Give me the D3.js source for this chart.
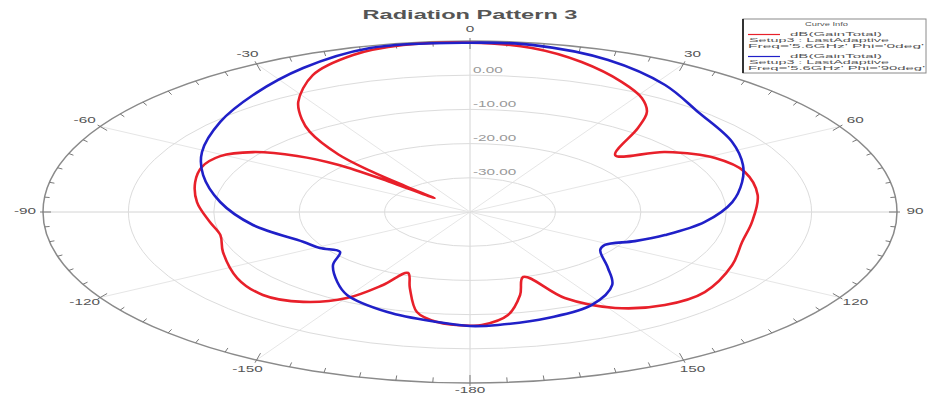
<!DOCTYPE html>
<html>
<head>
<meta charset="utf-8">
<script src="https://cdn.jsdelivr.net/npm/d3@7"></script>
<style>
  body { margin: 0; background: #fff; }
  svg { display: block; }
  text { font-family: Arial, "Liberation Sans", sans-serif; }
</style>
</head>
<body>
<svg id="chart" width="928" height="399"></svg>
<script>
// Gain pattern, Phi = 0deg (theta in degrees, gain in dB)
const redTheta = [-180, -173.2, -168, -162.4, -157.9, -154.5, -150.2, -143.4, -135, -125.3,
  -112, -103, -95.5, -84.8, -74.8, -67.3, -60.8, -55.4, -51, -48.2,
  -46.8, -45.6, -45, -44.2, -42.5, -38.7, -36, -32, -24.7, -16.6,
  -9.1, 0, 8.6, 16.6, 25.1, 31.1, 35.3, 38.7, 45.6, 52.5,
  61.2, 70, 81.6, 95, 105.4, 116.8, 130.4, 140, 148.8, 156.2,
  161.9, 166.4, 171.6, 177.6];
const redGain = [-6.75, -7.6, -10.1, -16.7, -20.75, -16.35, -11.0, -7.25, -5.7, -6.6,
  -8.8, -10.0, -9.4, -7.9, -6.65, -5.95, -6.5, -9.15, -13.95, -19.25,
  -26.95, -34.2, -29.3, -23.45, -17.2, -10.0, -6.5, -2.05, 4.05, 7.9,
  9.45, 9.5, 8.5, 5.75, 1.95, -1.05, -4.15, -8.55, -16.2, -11.2,
  -7.25, -5.75, -5.95, -6.85, -6.95, -5.6, -3.9, -4.5, -7.2, -12.5,
  -20.0, -15.05, -9.55, -6.9];

// Gain pattern, Phi = 90deg
const blueTheta = [-180, -173.2, -161.7, -149.3, -142.8, -134, -127.6, -121, -114, -98.5,
  -84.3, -71, -60.8, -48, -36.6, -24.9, -13.7, 0, 8.4, 20,
  31.6, 42.4, 56.3, 66.7, 74.6, 84.6, 96, 106.5, 113.8, 121.4,
  126, 135.4, 142, 152.3, 163.6, 174.3];
const blueGain = [-6.65, -7.6, -9.2, -11.8, -14.3, -17.7, -20.8, -19.5, -18.6, -14.3,
  -10.6, -6.95, -4.05, -0.65, 2.6, 6.4, 9.35, 9.5, 9.4, 7.3,
  3.6, -0.4, -3.1, -5.2, -6.95, -9.15, -12.35, -16.2, -18.9, -21.5,
  -21.15, -17.0, -12.95, -9.3, -7.7, -6.8];

const ringLevels = [0, -10, -20, -30];
const ringLabels = ["0.00", "-10.00", "-20.00", "-30.00"];
const angleLabels = [-180, -150, -120, -90, -60, -30, 0, 30, 60, 90, 120, 150];
const legendText = [
  ["dB(GainTotal)", "Setup3 : LastAdaptive", "Freq='5.6GHz' Phi='0deg'"],
  ["dB(GainTotal)", "Setup3 : LastAdaptive", "Freq='5.6GHz' Phi='90deg'"]
];
const seriesColors = ["#e8202a", "#2020c8"];

const svg = d3.select("#chart");
const cx = 470, cy = 212, rx = 427, ry = 171;
const stretch = 1.7;

const r = d3.scaleLinear().domain([-40, 10]).range([0, 1]);
const ang = d3.scaleLinear().domain([0, 360]).range([0, 2 * Math.PI]);

function pt(deg, frac, ax = rx, ay = ry) {
  const a = ang(deg);
  return [cx + ax * frac * Math.sin(a), cy - ay * frac * Math.cos(a)];
}

function wideText(g, x, y, str, size, color, anchor, weight) {
  return g.append("text")
    .attr("transform", `translate(${x},${y}) scale(${stretch},1)`)
    .attr("text-anchor", anchor || "middle")
    .attr("dominant-baseline", "middle")
    .attr("font-size", size)
    .attr("font-weight", weight || "normal")
    .attr("fill", color)
    .text(str);
}

const grid = svg.append("g");

// spokes
d3.range(0, 360, 30).forEach(d => {
  const [x, y] = pt(d, 1);
  grid.append("line")
    .attr("x1", cx).attr("y1", cy).attr("x2", x).attr("y2", y)
    .attr("stroke", d % 90 === 0 ? "#d4d4d4" : "#e6e6e6").attr("stroke-width", 1);
});

// dB rings
ringLevels.forEach(v => {
  grid.append("ellipse")
    .attr("cx", cx).attr("cy", cy)
    .attr("rx", rx * r(v)).attr("ry", ry * r(v))
    .attr("fill", "none").attr("stroke", "#dcdcdc").attr("stroke-width", 1);
});

// outer ring
grid.append("ellipse")
  .attr("cx", cx).attr("cy", cy).attr("rx", rx).attr("ry", ry)
  .attr("fill", "none").attr("stroke", "#8a8a8a").attr("stroke-width", 1.5);

// tick marks on outer ring
d3.range(-180, 180, 5).forEach(d => {
  const major = d % 30 === 0;
  const inL = major ? 8 : 5, outL = major ? 3 : 0;
  const [x1, y1] = pt(d, 1, rx - inL, ry - inL);
  const [x2, y2] = pt(d, 1, rx + outL, ry + outL);
  grid.append("line")
    .attr("x1", x1).attr("y1", y1).attr("x2", x2).attr("y2", y2)
    .attr("stroke", "#7a7a7a").attr("stroke-width", 1);
});

// angle labels
angleLabels.forEach(d => {
  const [x, y] = pt(d, 1, 445, 182);
  wideText(grid, x, Math.min(y, 391), String(d), 9, "#555");
});

// ring labels
ringLevels.forEach((v, i) => {
  wideText(grid, cx + 3, cy - ry * r(v) - 5, ringLabels[i], 9, "#9a9a9a", "start");
});

// pattern curves
const line = d3.line()
  .x(d => pt(d[0], r(d[1]))[0])
  .y(d => pt(d[0], r(d[1]))[1])
  .curve(d3.curveCatmullRomClosed.alpha(0.5));

const series = [
  d3.zip(redTheta, redGain),
  d3.zip(blueTheta, blueGain)
];
series.forEach((s, i) => {
  svg.append("path")
    .datum(s)
    .attr("d", line)
    .attr("fill", "none")
    .attr("stroke", seriesColors[i])
    .attr("stroke-width", 2.6)
    .attr("stroke-linejoin", "round");
});

// title
svg.append("text")
  .attr("x", 470).attr("y", 16)
  .attr("text-anchor", "middle")
  .attr("dominant-baseline", "middle")
  .attr("font-size", 13).attr("font-weight", "bold")
  .attr("fill", "#555")
  .attr("textLength", 215).attr("lengthAdjust", "spacingAndGlyphs")
  .text("Radiation Pattern 3");

// legend
const lg = svg.append("g");
lg.append("rect")
  .attr("x", 743).attr("y", 19).attr("width", 183).attr("height", 54)
  .attr("fill", "#fff").attr("stroke", "#8a8a8a").attr("stroke-width", 1);
lg.append("line")
  .attr("x1", 743).attr("y1", 19).attr("x2", 743).attr("y2", 73)
  .attr("stroke", "#333").attr("stroke-width", 2);

function legendLine(x, y, str, width, anchor) {
  lg.append("text")
    .attr("x", x).attr("y", y)
    .attr("text-anchor", anchor || "start")
    .attr("dominant-baseline", "middle")
    .attr("font-size", 5.5).attr("fill", "#555")
    .attr("textLength", width).attr("lengthAdjust", "spacingAndGlyphs")
    .text(str);
}
legendLine(805, 25, "Curve Info", 43);
legendText.forEach((rows, i) => {
  const y0 = 34.5 + i * 22;
  lg.append("line")
    .attr("x1", 748).attr("x2", 780).attr("y1", y0).attr("y2", y0)
    .attr("stroke", seriesColors[i]).attr("stroke-width", 1.2);
  legendLine(790, y0, rows[0], 92);
  legendLine(749, y0 + 6, rows[1], 140);
  legendLine(748, y0 + 12, rows[2], i === 0 ? 176 : 177);
});
</script>
</body>
</html>
